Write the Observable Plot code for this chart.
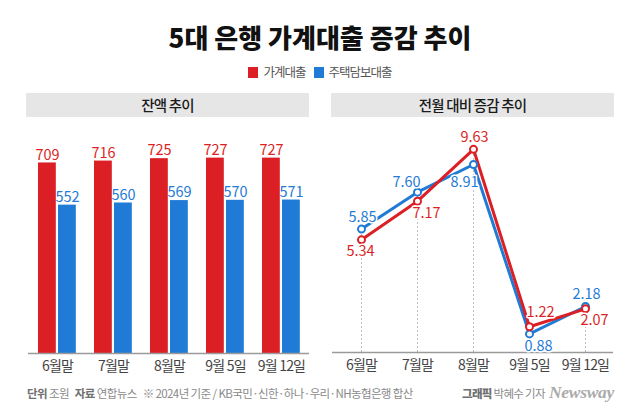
<!DOCTYPE html>
<html>
<head>
<meta charset="utf-8">
<script src="https://cdn.jsdelivr.net/npm/d3@7"></script>
<script src="https://cdn.jsdelivr.net/npm/@observablehq/plot@0.6"></script>
<style>
  html, body { margin: 0; padding: 0; background: #fff; }
  #root { position: relative; width: 640px; height: 412px; overflow: hidden; background: #fff;
          font-family: "Noto Sans CJK KR", "Noto Sans", sans-serif; }
  .abs { position: absolute; }
  #title { left: 0; width: 640px; top: 23px; height: 28px; line-height: 28px; text-align: center;
           font-size: 26px; font-weight: 900; letter-spacing: 0px; color: #111; }
  #legend { left: 0; width: 640px; top: 64px; height: 16px; line-height: 16px; text-align: center;
            font-size: 12.5px; letter-spacing: -1px; color: #555; }
  #legend span.sw { display: inline-block; width: 10px; height: 11px; vertical-align: -1px; margin-right: 5px; }
  #legend span.item { margin: 0 4px; }
  .hdr { top: 93px; height: 24px; line-height: 24px; background: #e6e6e6; text-align: center;
         font-size: 14.5px; letter-spacing: -0.8px; color: #1a1a1a; font-weight: 500; }
  #footer { left: 27px; top: 385px; height: 16px; line-height: 16px; font-size: 11.5px; color: #8a8a8a; letter-spacing: -0.6px; white-space: nowrap; }
  #footer b { color: #707070; font-weight: 700; }
  #credit { left: 462px; top: 385px; height: 16px; line-height: 16px; font-size: 11.5px; color: #8a8a8a; letter-spacing: -0.7px; white-space: nowrap; }
  #credit b { color: #707070; font-weight: 900; }
  #logo { left: 549px; top: 381px; height: 22px; line-height: 22px; font-family: "Liberation Serif", "DejaVu Serif", serif;
          font-style: italic; font-weight: 700; font-size: 17.5px; color: #aaa; letter-spacing: -0.3px; }
</style>
</head>
<body>
<div id="root">
  <div id="title" class="abs">5대 은행 가계대출 증감 추이</div>
  <div id="legend" class="abs"></div>
  <div class="abs hdr" style="left:26px;width:283px;">잔액 추이</div>
  <div class="abs hdr" style="left:331px;width:283px;">전월 대비 증감 추이</div>
  <div id="left" class="abs" style="left:0;top:120px;"></div>
  <div id="right" class="abs" style="left:320px;top:120px;"></div>
  <div id="footer" class="abs"><b>단위</b> 조원&nbsp;&nbsp; <b>자료</b> 연합뉴스&nbsp;&nbsp; ※ 2024년 기준 / KB국민·신한·하나·우리·NH농협은행 합산</div>
  <div id="credit" class="abs"><b>그래픽</b> 박혜수 기자</div>
  <div id="logo" class="abs">Newsway</div>
</div>
<script>
// ---- data ----
const dates = ["6월말", "7월말", "8월말", "9월 5일", "9월 12일"];
const seriesNames = ["가계대출", "주택담보대출"];
const householdBalance = [709, 716, 725, 727, 727];   // 조원
const mortgageBalance  = [552, 560, 569, 570, 571];
const householdChange  = [5.34, 7.17, 9.63, 1.22, 2.07]; // 전월 대비 증감
const mortgageChange   = [5.85, 7.60, 8.91, 0.88, 2.18];
// label placement (style only)
const householdLabelPlace = ["below", "belowRight", "above", "aboveRight", "belowRight"];
const mortgageLabelPlace  = ["above", "aboveLeft", "belowLeft", "belowRight", "above"];

const RED = "#dc1f24", BLUE = "#1f7bd5";
const colors = [RED, BLUE];

// legend
const leg = document.getElementById("legend");
seriesNames.forEach((s, i) => {
  const it = document.createElement("span");
  it.className = "item";
  it.innerHTML = `<span class="sw" style="background:${colors[i]}"></span>${s}`;
  leg.appendChild(it);
});

// ---- left: balances (grouped bars) ----
const balRows = dates.map((d, i) => ({date: d, hh: householdBalance[i], mg: mortgageBalance[i]}));

const left = Plot.plot({
  width: 320, height: 260,
  marginLeft: 28, marginRight: 11, marginTop: 18, marginBottom: 27,
  style: {fontFamily: '"Noto Sans CJK KR", "Noto Sans", sans-serif', background: "transparent"},
  x: {domain: dates, padding: 0, label: null, tickSize: 0, tickPadding: 8},
  y: {domain: [0, 800], axis: null},
  marks: [
    Plot.barY(balRows, {x: "date", y: "hh", fill: RED, insetLeft: 9, insetRight: 29.2}),
    Plot.barY(balRows, {x: "date", y: "mg", fill: BLUE, insetLeft: 29, insetRight: 9.2}),
    Plot.ruleY([0], {stroke: "#9a9a9a", strokeWidth: 1.5}),
    Plot.text(balRows, {x: "date", y: "hh", text: d => String(d.hh), fill: RED, dx: -10, dy: -8, fontSize: 14.5}),
    Plot.text(balRows, {x: "date", y: "mg", text: d => String(d.mg), fill: BLUE, dx: 10, dy: -8, fontSize: 14.5}),
    Plot.axisX({tickSize: 0, tickPadding: 8, fontSize: 14, fill: "#444", label: null})
  ]
});
left.querySelectorAll("g[aria-label='x-axis tick label']").forEach(e => e.setAttribute("letter-spacing", "-0.8"));
document.getElementById("left").appendChild(left);

// ---- right: month-over-month change (lines) ----
const chgRows = [];
dates.forEach((d, i) => {
  chgRows.push({date: d, series: seriesNames[1], value: mortgageChange[i], place: mortgageLabelPlace[i], color: BLUE});
});
dates.forEach((d, i) => {
  chgRows.push({date: d, series: seriesNames[0], value: householdChange[i], place: householdLabelPlace[i], color: RED});
});
const gridRows = dates.map((d, i) => ({date: d, top: Math.max(householdChange[i], mortgageChange[i])}));

const placements = {
  above:      {dx: 1,   dy: -12},
  below:      {dx: -1,  dy: 12},
  aboveRight: {dx: 11,  dy: -14},
  belowRight: {dx: 9,   dy: 12},
  aboveLeft:  {dx: -11, dy: -10},
  belowLeft:  {dx: -9,  dy: 18}
};

const labelMarks = Object.entries(placements).map(([key, off]) =>
  Plot.text(chgRows.filter(r => r.place === key), {
    x: "date", y: "value", text: d => d.value.toFixed(2), fill: "color",
    dx: off.dx, dy: off.dy, fontSize: 14.5, stroke: "white", strokeWidth: 3, paintOrder: "stroke"
  })
);

const right = Plot.plot({
  width: 320, height: 260,
  marginLeft: 12, marginRight: 27, marginTop: 21, marginBottom: 28,
  style: {fontFamily: '"Noto Sans CJK KR", "Noto Sans", sans-serif', background: "transparent"},
  x: {type: "point", domain: dates, padding: 0.5, label: null},
  y: {domain: [0, 10], axis: null},
  marks: [
    Plot.ruleX(gridRows, {x: "date", y1: 0, y2: "top", stroke: "#bdbdbd", strokeWidth: 1, strokeDasharray: "2,2"}),
    Plot.ruleY([0], {stroke: "#9a9a9a", strokeWidth: 1.5}),
    Plot.line(chgRows.filter(r => r.series === seriesNames[1]), {x: "date", y: "value", stroke: BLUE, strokeWidth: 3}),
    Plot.line(chgRows.filter(r => r.series === seriesNames[0]), {x: "date", y: "value", stroke: RED, strokeWidth: 3}),
    Plot.dot(chgRows, {x: "date", y: "value", r: 3.5, fill: "white", stroke: "color", strokeWidth: 2}),
    ...labelMarks,
    Plot.axisX({tickSize: 0, tickPadding: 8, fontSize: 14, fill: "#444", label: null})
  ]
});
right.querySelectorAll("g[aria-label='x-axis tick label']").forEach(e => e.setAttribute("letter-spacing", "-0.8"));
document.getElementById("right").appendChild(right);
</script>
</body>
</html>
